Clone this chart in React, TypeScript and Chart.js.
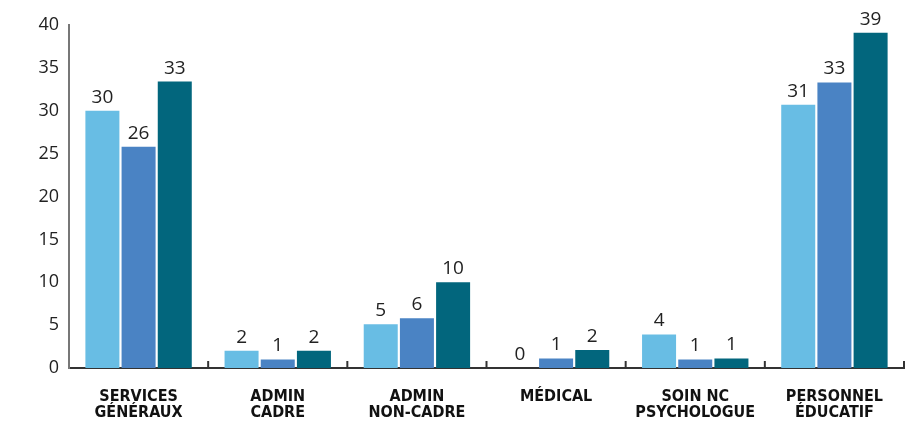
import React, { useEffect, useRef } from "react";
import { Chart, registerables } from "chart.js";

Chart.register(...registerables);

const categories: string[][] = [
  ["SERVICES", "GÉNÉRAUX"],
  ["ADMIN", "CADRE"],
  ["ADMIN", "NON-CADRE"],
  ["MÉDICAL"],
  ["SOIN NC", "PSYCHOLOGUE"],
  ["PERSONNEL", "ÉDUCATIF"],
];
const series1: number[] = [30.0, 2.0, 5.1, 0, 3.9, 30.7];
const series2: number[] = [25.8, 1.0, 5.8, 1.1, 1.0, 33.3];
const series3: number[] = [33.4, 2.0, 10.0, 2.1, 1.1, 39.1];
const yTicks: number[] = [0, 5, 10, 15, 20, 25, 30, 35, 40];

const COLORS = ["#68BDE4", "#4A83C4", "#02667D"];

const valueLabels = {
  id: "valueLabels",
  afterDatasetsDraw(chart: any) {
    const ctx = chart.ctx;
    ctx.save();
    ctx.font = '19px "Open Sans", "Noto Sans", sans-serif';
    ctx.fillStyle = "#222";
    ctx.textAlign = "center";
    ctx.textBaseline = "bottom";
    chart.data.datasets.forEach((ds: any, di: number) => {
      const meta = chart.getDatasetMeta(di);
      meta.data.forEach((bar: any, i: number) => {
        const v = ds.data[i];
        ctx.fillText(String(Math.round(v)), bar.x, bar.y - 4);
      });
    });
    ctx.restore();
  },
};

const axisTicks = {
  id: "axisTicks",
  afterDraw(chart: any) {
    const x = chart.scales.x;
    const ctx = chart.ctx;
    const n = chart.data.labels.length;
    const step = (x.right - x.left) / n;
    ctx.save();
    ctx.strokeStyle = "#333";
    ctx.lineWidth = 2;
    for (let i = 1; i <= n; i++) {
      const px = x.left + i * step;
      ctx.beginPath();
      ctx.moveTo(px, x.top);
      ctx.lineTo(px, x.top - 7);
      ctx.stroke();
    }
    ctx.restore();
  },
};

export default function App() {
  const ref = useRef<HTMLCanvasElement | null>(null);
  useEffect(() => {
    if (!ref.current) return;
    const chart = new Chart(ref.current, {
      type: "bar",
      data: {
        labels: categories,
        datasets: [
          { label: "A", data: series1, backgroundColor: COLORS[0] },
          { label: "B", data: series2, backgroundColor: COLORS[1] },
          { label: "C", data: series3, backgroundColor: COLORS[2] },
        ],
      },
      options: {
        animation: false,
        responsive: true,
        maintainAspectRatio: false,
        layout: { padding: { top: 25, right: 11, left: 0, bottom: 0 } },
        datasets: {
          bar: { categoryPercentage: 0.78, barPercentage: 0.94 },
        },
        plugins: {
          legend: { display: false },
          tooltip: { enabled: false },
        },
        scales: {
          x: {
            grid: { display: false, drawTicks: false },
            border: { display: true, color: "#333", width: 2 },
            ticks: {
              color: "#111",
              padding: 20,
              font: {
                family: '"Liberation Sans Narrow", "DejaVu Sans Condensed", sans-serif',
                size: 16,
                weight: "bold",
                lineHeight: 1.05,
              },
              maxRotation: 0,
              autoSkip: false,
            },
            afterFit(scale: any) {
              scale.height = 423 - 368;
            },
          },
          y: {
            min: 0,
            max: 40,
            afterBuildTicks(scale: any) {
              scale.ticks = yTicks.map((v) => ({ value: v }));
            },
            grid: { display: false, drawTicks: false },
            border: { display: true, color: "#777", width: 2 },
            ticks: {
              color: "#222",
              padding: 10,
              font: { family: '"Open Sans", "Noto Sans", sans-serif', size: 18 },
            },
            afterFit(scale: any) {
              scale.width = 69;
            },
          },
        },
      },
      plugins: [valueLabels, axisTicks],
    });
    return () => chart.destroy();
  }, []);
  return (
    <div style={{ position: "fixed", left: 0, top: 0, width: 915, height: 423, background: "#fff" }}>
      <canvas ref={ref} />
    </div>
  );
}
